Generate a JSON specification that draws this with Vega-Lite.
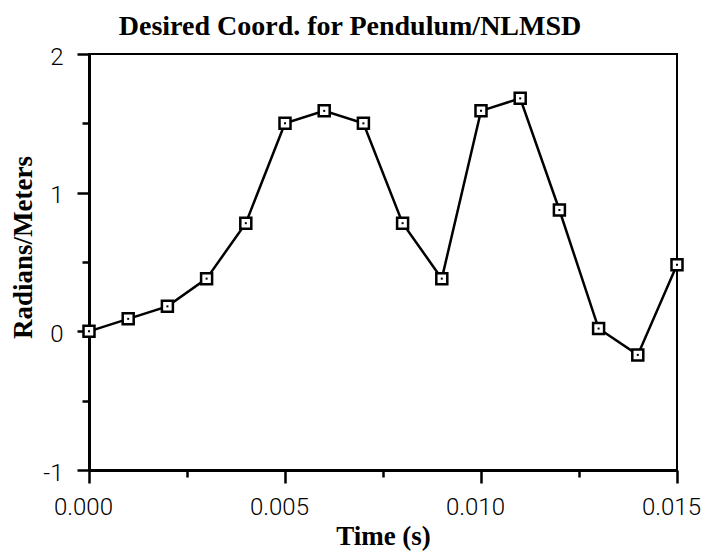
{
  "$schema": "https://vega.github.io/schema/vega-lite/v6.json",
  "width": 588,
  "height": 416,
  "autosize": {"type": "none"},
  "padding": {"left": 89, "top": 54, "right": 24, "bottom": 83},
  "background": "white",
  "title": {
    "text": "Desired Coord. for Pendulum/NLMSD",
    "font": "Liberation Serif",
    "fontSize": 28,
    "fontWeight": "bold",
    "color": "black",
    "anchor": "middle",
    "dx": -33,
    "offset": 4
  },
  "config": {
    "view": {"stroke": "black", "strokeWidth": 2},
    "axis": {
      "domainColor": "black",
      "domainWidth": 3,
      "tickColor": "black",
      "tickWidth": 2.5,
      "labelFont": "Roboto",
      "labelFontWeight": 300,
      "labelFontSize": 24,
      "labelColor": "black",
      "titleFont": "Liberation Serif",
      "titleFontSize": 27,
      "titleFontWeight": "bold",
      "titleColor": "black",
      "grid": false,
      "labelOverlap": false,
      "labelFlush": false
    }
  },
  "data": {
    "values": [
      {"t": 0.000, "v": 0.0},
      {"t": 0.001, "v": 0.09},
      {"t": 0.002, "v": 0.18},
      {"t": 0.003, "v": 0.38},
      {"t": 0.004, "v": 0.78},
      {"t": 0.005, "v": 1.5},
      {"t": 0.006, "v": 1.59},
      {"t": 0.007, "v": 1.5},
      {"t": 0.008, "v": 0.78},
      {"t": 0.009, "v": 0.38},
      {"t": 0.010, "v": 1.59},
      {"t": 0.011, "v": 1.68},
      {"t": 0.012, "v": 0.875},
      {"t": 0.013, "v": 0.02},
      {"t": 0.014, "v": -0.17},
      {"t": 0.015, "v": 0.48}
    ]
  },
  "encoding": {
    "x": {
      "field": "t",
      "type": "quantitative",
      "scale": {"domain": [0, 0.015], "nice": false, "zero": false},
      "axis": {
        "title": "Time (s)",
        "values": [0, 0.0025, 0.005, 0.0075, 0.01, 0.0125, 0.015],
        "labelExpr": "round(datum.value*1000) % 5 == 0 ? format(datum.value, '.3f') : ''",
        "tickSize": {"condition": {"test": "round(datum.value*1000) % 5 == 0", "value": 13}, "value": 7},
        "labelPadding": 12,
        "labelOffset": -6,
        "titlePadding": 4
      }
    },
    "y": {
      "field": "v",
      "type": "quantitative",
      "scale": {"domain": [-1, 2], "nice": false, "zero": false},
      "axis": {
        "title": "Radians/Meters",
        "values": [-1, -0.5, 0, 0.5, 1, 1.5, 2],
        "labelExpr": "datum.value % 1 == 0 ? '' + datum.value : ''",
        "tickSize": {"condition": {"test": "datum.value % 1 == 0", "value": 12}, "value": 7},
        "labelPadding": 14,
        "labelOffset": 3,
        "titlePadding": 5,
        "titleY": 193
      }
    }
  },
  "layer": [
    {"mark": {"type": "line", "color": "black", "strokeWidth": 2.5}},
    {"mark": {"type": "point", "shape": "square", "filled": true, "fill": "white", "stroke": "black", "strokeWidth": 2.5, "size": 121, "opacity": 1}},
    {"mark": {"type": "point", "shape": "square", "filled": true, "color": "black", "size": 4, "opacity": 1}}
  ]
}
